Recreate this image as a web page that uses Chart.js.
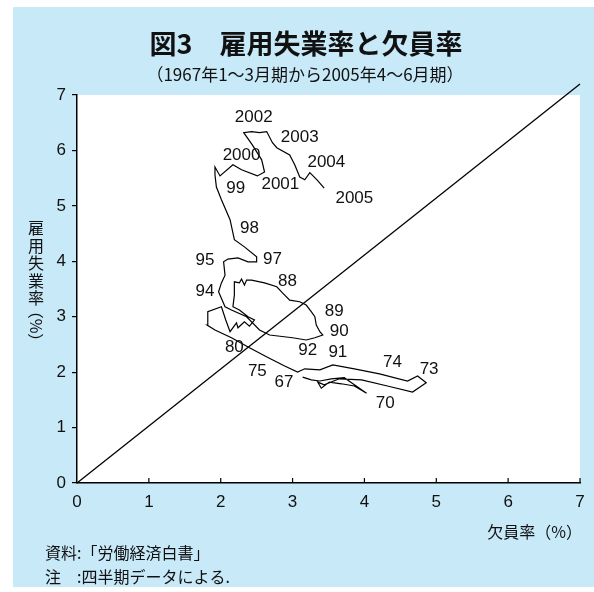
<!DOCTYPE html>
<html>
<head>
<meta charset="utf-8">
<script src="https://cdn.jsdelivr.net/npm/chart.js@4"></script>
<style>
body{margin:0;background:#fff;}
#chart{display:block;}
</style>
</head>
<body>
<canvas id="chart" width="594" height="592"></canvas>
<script>
// quarterly path, 1967 Q1 -> 2005 Q2
const vacancyRate = [
3.14,3.26,3.38,3.54,3.72,3.82,3.93,4.03,3.86,3.68,
3.51,3.40,3.35,3.44,3.65,3.96,4.32,4.67,4.86,4.74,
4.60,4.21,3.86,3.56,3.38,3.17,3.07,2.89,2.65,2.40,
2.15,1.92,1.81,1.82,2.01,2.07,2.13,2.22,2.24,2.33,
2.40,2.47,2.38,2.26,2.17,2.19,2.19,2.26,2.29,2.33,
2.36,2.43,2.61,2.78,2.86,2.96,3.10,3.19,3.26,3.31,
3.33,3.38,3.42,3.31,3.19,3.00,2.68,2.54,2.36,2.15,
2.06,1.97,2.01,2.06,2.04,2.10,2.24,2.38,2.50,2.50,
2.33,2.19,2.13,2.01,1.94,1.92,1.92,1.99,2.17,2.29,
2.51,2.61,2.57,2.44,2.32,2.43,2.54,2.64,2.72,2.78,
2.96,3.03,3.10,3.17,3.24,3.34,3.44
];
const unemploymentRate = [
1.91,1.86,1.84,1.88,1.90,1.81,1.71,1.62,1.75,1.79,
1.82,1.71,1.82,1.77,1.88,1.86,1.75,1.64,1.81,1.93,
1.84,1.97,2.06,2.13,2.04,2.06,2.00,2.11,2.27,2.44,
2.62,2.76,2.85,3.09,3.18,2.94,2.73,2.89,2.80,2.91,
2.83,2.94,3.00,3.12,3.18,3.39,3.63,3.61,3.68,3.57,
3.66,3.66,3.61,3.54,3.43,3.30,3.27,3.21,3.09,3.00,
2.85,2.73,2.67,2.62,2.58,2.62,2.67,2.76,3.00,3.12,
3.18,3.45,3.61,3.75,3.99,4.04,4.06,3.99,3.99,4.08,
4.26,4.39,4.75,5.11,5.34,5.56,5.70,5.54,5.74,5.65,
5.54,5.61,5.83,6.10,6.32,6.34,6.32,6.34,6.14,6.05,
5.92,5.74,5.52,5.47,5.60,5.47,5.32
];

// 45-degree reference line
const refX = [0, 7];
const refY = [0, 7.2];

// year annotations
const yearText = ["2002","2003","2004","2005","2000","2001","99","98","97","95","88","94","89","90","80","92","91","74","73","75","67","70"];
const yearX = [2.46,3.10,3.47,3.86,2.29,2.83,2.21,2.40,2.72,1.78,2.93,1.78,3.58,3.65,2.19,3.21,3.63,4.39,4.90,2.51,2.88,4.29];
const yearY = [6.59,6.23,5.79,5.14,5.92,5.38,5.31,4.60,4.03,4.01,3.63,3.45,3.10,2.73,2.45,2.40,2.36,2.18,2.06,2.02,1.82,1.44];

const tickValues = [0,1,2,3,4,5,6,7];

const titleText = "図3　雇用失業率と欠員率";
const subTitleText = "（1967年1～3月期から2005年4～6月期）";
const yTitleChars = ["雇","用","失","業","率"];
const xTitleText = "欠員率（%）";
const noteLines = ["資料:「労働経済白書」", "注　:四半期データによる."];

const JP = '"Noto Sans CJK JP", sans-serif';
const NUM = '"Liberation Sans", Arial, sans-serif';
const PANEL = "#c8e9f8";

const pathPoints = vacancyRate.map((v, i) => ({x: v, y: unemploymentRate[i]}));
const refPoints = refX.map((v, i) => ({x: v, y: refY[i]}));

const decor = {
  id: "decor",
  beforeDraw(chart){
    const {ctx, chartArea: a} = chart;
    ctx.save();
    ctx.fillStyle = "#fff";
    ctx.fillRect(0, 0, chart.width, chart.height);
    ctx.fillStyle = PANEL;
    ctx.fillRect(13, 7, 581, 580);
    ctx.fillStyle = "#fff";
    ctx.fillRect(a.left, a.top, a.right - a.left, a.bottom - a.top);
    ctx.restore();
  },
  afterDatasetsDraw(chart){
    const {ctx, scales: {x, y}} = chart;
    ctx.save();
    // x ticks point up into the plot
    ctx.strokeStyle = "#000";
    ctx.lineWidth = 1.2;
    tickValues.slice(1).forEach(t => {
      const px = x.getPixelForValue(t);
      ctx.beginPath();
      ctx.moveTo(px, y.bottom);
      ctx.lineTo(px, y.bottom - 5);
      ctx.stroke();
    });
    ctx.fillStyle = "#111";
    ctx.font = "17px " + NUM;
    ctx.textAlign = "center";
    ctx.textBaseline = "middle";
    yearText.forEach((t, i) => {
      ctx.fillText(t, x.getPixelForValue(yearX[i]), y.getPixelForValue(yearY[i]));
    });
    ctx.restore();
  },
  afterDraw(chart){
    const {ctx, chartArea: a} = chart;
    ctx.save();
    ctx.fillStyle = "#111";
    ctx.textAlign = "center";
    ctx.textBaseline = "middle";
    ctx.font = "bold 27px " + JP;
    ctx.fillText(titleText, 306, 44);
    ctx.font = "17px " + JP;
    ctx.fillText(subTitleText, 305, 75);

    // vertical y title
    ctx.font = "16px " + JP;
    yTitleChars.forEach((c, i) => ctx.fillText(c, 36, 228 + i * 17.5));
    ctx.save();
    ctx.translate(36, 326);
    ctx.rotate(Math.PI / 2);
    ctx.fillText("（%）", 0, 0);
    ctx.restore();

    ctx.textAlign = "right";
    ctx.fillText(xTitleText, a.right + 2, 532);
    ctx.textAlign = "left";
    ctx.fillText(noteLines[0], 45, 553);
    ctx.fillText(noteLines[1], 45, 577);
    ctx.restore();
  }
};

new Chart(document.getElementById("chart"), {
  type: "scatter",
  data: {
    datasets: [
      {
        data: refPoints,
        showLine: true,
        borderColor: "#000",
        borderWidth: 1.3,
        pointRadius: 0,
        clip: false
      },
      {
        data: pathPoints,
        showLine: true,
        borderColor: "#000",
        borderWidth: 1.2,
        pointRadius: 0,
        tension: 0
      }
    ]
  },
  options: {
    responsive: false,
    animation: false,
    devicePixelRatio: 1,
    layout: {padding: {top: 95, right: 14, left: 0, bottom: 0}},
    plugins: {legend: {display: false}, tooltip: {enabled: false}, title: {display: false}},
    scales: {
      x: {
        min: 0, max: 7,
        afterFit(s){ s.height = 109; },
        ticks: {stepSize: 1, color: "#111", font: {family: NUM, size: 17}, padding: 9},
        grid: {drawOnChartArea: false, drawTicks: false},
        border: {display: true, color: "#000", width: 1.5}
      },
      y: {
        min: 0, max: 7,
        afterFit(s){ s.width = 77; },
        ticks: {stepSize: 1, color: "#111", font: {family: NUM, size: 17}, padding: 6},
        grid: {drawOnChartArea: false, drawTicks: true, tickLength: 5, color: "#000", lineWidth: 1.2},
        border: {display: true, color: "#000", width: 1.5}
      }
    }
  },
  plugins: [decor]
});
</script>
</body>
</html>
